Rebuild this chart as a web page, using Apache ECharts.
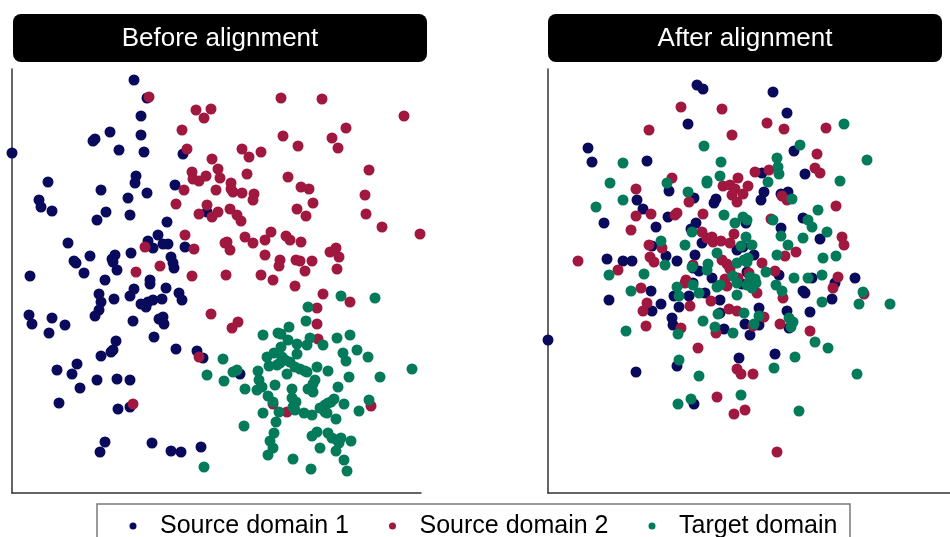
<!DOCTYPE html>
<html>
<head>
<meta charset="utf-8">
<script src="https://cdn.jsdelivr.net/npm/echarts@6/dist/echarts.min.js"></script>
<style>html,body{margin:0;padding:0;background:#fff}#c{width:950px;height:537px}</style>
</head>
<body>
<div id="c"></div>
<script>
const panelTitles = ['Before alignment', 'After alignment'];
const seriesNames = ['Source domain 1', 'Source domain 2', 'Target domain'];
const colors = ['#0a0a5c', '#a0173f', '#037a5a'];

// Before alignment (embedding coordinates)
const beforeSource1 = [[122,413],[135,395],[129,377],[98,361],[83,354],[81,352],[129,358],[107,343],[132,341],[0,340],[171,339],[36,311],[124,317],[123,310],[89,303],[116,295],[135,300],[27,293],[29,286],[40,282],[94,281],[85,273],[118,278],[163,308],[155,271],[146,258],[136,252],[141,245],[151,249],[156,249],[173,246],[195,281],[56,250],[78,237],[62,232],[64,230],[103,238],[100,234],[101,231],[119,240],[159,236],[161,230],[162,225],[105,223],[72,220],[18,217],[93,213],[138,213],[138,209],[154,205],[122,204],[118,197],[87,199],[89,191],[87,183],[83,177],[102,194],[167,200],[170,193],[129,189],[134,186],[136,191],[141,193],[150,194],[17,178],[20,169],[40,175],[53,168],[37,160],[121,172],[147,174],[151,176],[152,169],[142,156],[104,152],[101,143],[99,141],[89,137],[164,144],[185,142],[191,135],[65,129],[45,123],[60,119],[85,113],[105,114],[118,113],[68,105],[47,90],[106,84],[118,86],[93,51],[88,41],[140,50],[159,42],[169,41],[189,46],[228,119]];
const beforeSource2 = [[137,396],[184,383],[199,384],[192,375],[170,363],[175,344],[200,334],[180,321],[181,314],[187,312],[194,317],[172,303],[204,303],[164,289],[195,288],[187,279],[200,276],[173,258],[182,244],[133,246],[148,227],[124,221],[180,217],[269,395],[310,394],[392,377],[334,365],[271,357],[286,347],[320,355],[326,345],[230,344],[249,341],[237,336],[206,324],[208,315],[357,323],[235,319],[276,316],[219,310],[219,304],[221,301],[230,300],[242,299],[241,293],[289,306],[297,304],[353,298],[301,290],[285,284],[294,277],[354,279],[218,284],[225,278],[229,272],[206,281],[370,266],[408,259],[259,261],[233,256],[241,250],[253,253],[274,257],[278,253],[289,251],[213,250],[215,251],[218,243],[253,238],[318,241],[324,245],[327,236],[268,233],[267,227],[284,233],[288,232],[300,232],[293,222],[325,224],[214,218],[249,218],[261,213],[199,179],[187,136],[121,89],[283,207],[311,199],[338,191],[305,185],[305,169],[306,154],[226,171],[220,165],[261,89],[275,81],[359,87]];
const beforeTarget = [[195,118],[192,26],[329,197],[363,195],[296,186],[294,172],[277,166],[251,158],[266,160],[269,159],[276,153],[285,149],[298,155],[295,148],[311,148],[325,155],[338,158],[345,143],[331,140],[334,132],[356,136],[211,134],[269,146],[262,140],[255,136],[257,127],[285,139],[270,136],[273,133],[265,128],[268,130],[278,131],[283,126],[288,124],[293,122],[295,121],[305,126],[316,122],[275,119],[246,122],[247,113],[245,103],[250,106],[225,123],[221,121],[212,112],[233,104],[303,113],[301,109],[337,116],[368,116],[263,108],[280,104],[296,104],[301,101],[326,106],[400,124],[256,97],[261,91],[280,95],[284,91],[281,86],[283,83],[308,85],[313,88],[316,90],[319,91],[322,94],[313,81],[315,80],[332,89],[357,93],[347,82],[251,80],[267,81],[292,80],[300,78],[324,74],[264,71],[232,67],[262,60],[258,52],[261,45],[256,38],[305,61],[300,57],[316,60],[320,55],[325,53],[329,55],[327,50],[324,42],[339,52],[308,45],[281,34],[332,33],[299,24],[335,22]];

// After alignment (embedding coordinates)
const afterSource1 = [[149,408],[155,404],[140,369],[40,345],[44,331],[99,332],[121,302],[89,293],[95,284],[56,270],[108,266],[120,276],[146,295],[166,290],[168,294],[148,270],[143,264],[154,250],[59,234],[75,232],[84,232],[129,232],[118,237],[147,238],[104,247],[145,225],[151,222],[164,215],[189,243],[195,246],[225,401],[239,380],[246,342],[257,319],[214,320],[216,301],[213,293],[233,299],[240,301],[255,275],[198,270],[233,265],[272,254],[206,238],[199,221],[231,218],[307,215],[264,215],[61,193],[103,202],[113,189],[104,182],[126,197],[141,197],[157,200],[172,193],[131,186],[145,210],[124,175],[125,168],[172,180],[176,164],[197,169],[202,158],[0,153],[191,135],[129,127],[88,121],[146,89],[287,210],[255,202],[257,200],[284,194],[194,209],[211,185],[239,182],[262,181],[211,168],[241,165],[227,139]];
const afterSource2 = [[133,386],[174,384],[101,363],[184,358],[190,315],[124,315],[88,304],[175,307],[182,308],[187,304],[184,298],[189,291],[195,299],[200,307],[141,291],[88,277],[103,279],[127,278],[129,280],[155,279],[83,263],[154,261],[159,255],[164,256],[165,251],[173,252],[182,250],[186,259],[101,248],[114,245],[102,236],[106,231],[30,232],[70,223],[145,228],[174,233],[179,229],[138,213],[182,224],[219,370],[236,364],[278,365],[269,339],[267,325],[272,320],[207,321],[221,323],[234,297],[239,293],[288,287],[223,274],[294,256],[296,248],[248,241],[237,237],[214,230],[227,222],[290,216],[201,220],[93,205],[99,190],[95,182],[98,167],[137,210],[142,187],[163,192],[181,184],[189,182],[133,165],[168,160],[177,214],[179,207],[190,215],[150,145],[189,124],[193,119],[169,96],[186,79],[197,83],[205,119],[285,205],[316,199],[235,195],[209,200],[216,176],[205,167],[232,169],[262,162],[229,41]];
const afterTarget = [[156,347],[173,331],[75,330],[62,310],[159,312],[159,310],[172,317],[119,310],[140,301],[48,286],[75,293],[176,278],[187,270],[195,276],[144,261],[113,252],[137,248],[169,240],[117,228],[144,226],[160,229],[159,223],[189,230],[196,233],[200,235],[185,217],[96,219],[61,218],[198,256],[296,369],[252,348],[319,333],[229,335],[230,326],[231,319],[220,311],[292,312],[244,294],[270,283],[199,273],[225,273],[260,273],[264,266],[279,261],[233,257],[255,255],[204,248],[193,247],[240,248],[229,238],[275,235],[288,237],[199,231],[218,221],[202,216],[207,214],[246,215],[260,215],[274,218],[83,202],[129,206],[131,197],[145,208],[151,200],[172,208],[169,206],[189,210],[189,198],[199,208],[155,172],[170,179],[196,180],[167,166],[185,160],[130,159],[78,162],[131,133],[151,117],[143,94],[130,89],[193,98],[205,211],[208,210],[204,205],[228,208],[234,202],[274,191],[315,201],[311,189],[342,189],[211,177],[206,169],[241,175],[245,171],[243,166],[267,151],[280,145],[247,136],[226,125],[309,119],[251,82]];

const panels = [
  {data: [beforeSource1, beforeSource2, beforeTarget], xMax: 409},
  {data: [afterSource1, afterSource2, afterTarget], xMax: 402}
];

const axisLine = {show: true, onZero: false, lineStyle: {color: '#333', width: 1.5}};
const grids = [
  {left: 12, top: 69, width: 409, height: 424},
  {left: 548, top: 69, width: 402, height: 424}
];
const xAxes = panels.map((p, i) => ({gridIndex: i, type: 'value', min: 0, max: p.xMax,
  axisLine, axisTick: {show: false}, axisLabel: {show: false}, splitLine: {show: false}}));
const yAxes = panels.map((p, i) => ({gridIndex: i, type: 'value', min: 0, max: 424,
  axisLine, axisTick: {show: false}, axisLabel: {show: false}, splitLine: {show: false}}));

const series = [];
panels.forEach((p, i) => {
  p.data.forEach((d, k) => {
    series.push({
      type: 'scatter', name: seriesNames[k], xAxisIndex: i, yAxisIndex: i,
      data: d, symbolSize: 11, clip: false, itemStyle: {color: colors[k], opacity: 1},
      emphasis: {disabled: true}, z: 2 + k
    });
  });
});

const titleBoxes = [{x: 13, w: 414}, {x: 548, w: 394}];
const graphic = [];
titleBoxes.forEach((b, i) => {
  graphic.push({type: 'rect', left: b.x, top: 14, shape: {width: b.w, height: 48, r: 8}, style: {fill: '#000'}, z: 10});
  graphic.push({type: 'text', x: b.x + b.w / 2, y: 39, style: {text: panelTitles[i], fill: '#fff',
    font: '26px "Liberation Sans", Arial, sans-serif', textAlign: 'center', textVerticalAlign: 'middle'}, z: 11});
});
graphic.push({type: 'rect', shape: {x: 97, y: 504, width: 753, height: 45}, style: {fill: 'none', stroke: '#7a7a7a', lineWidth: 1.5}, z: 10});

const chart = echarts.init(document.getElementById('c'), null, {renderer: 'canvas'});
chart.setOption({
  animation: false,
  backgroundColor: '#fff',
  color: colors,
  grid: grids,
  xAxis: xAxes,
  yAxis: yAxes,
  legend: {
    data: seriesNames.map(n => ({name: n, icon: 'circle'})),
    left: 129.5, top: 512, padding: 0, itemGap: 40, itemWidth: 44, itemHeight: 7,
    selectedMode: false,
    textStyle: {fontSize: 25, color: '#000', fontFamily: '"Liberation Sans", Arial, sans-serif', lineHeight: 28}
  },
  graphic,
  series
});
</script>
</body>
</html>
